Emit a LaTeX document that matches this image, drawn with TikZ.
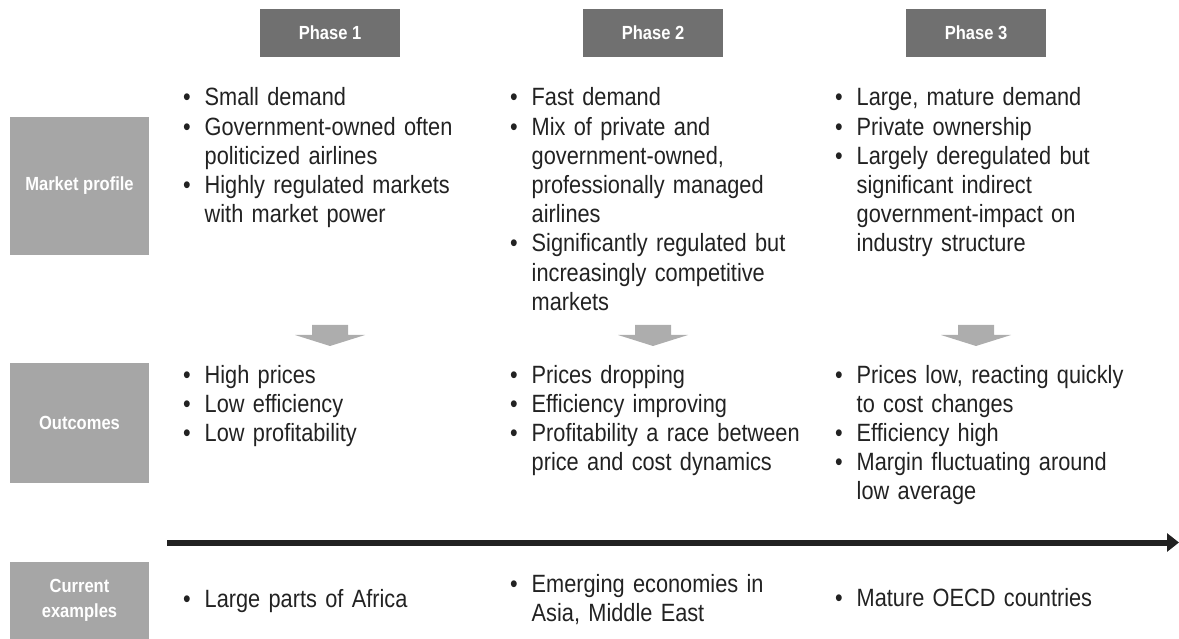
\documentclass[tikz,border=0pt]{standalone}
\usepackage{fontspec}
\setmainfont{Liberation Sans}[FakeStretch=0.87]
\usepackage{xcolor}
\usetikzlibrary{arrows.meta}
\definecolor{phasegray}{HTML}{707070}
\definecolor{rowgray}{HTML}{A6A6A6}
\definecolor{flowgray}{HTML}{ADADAD}
\definecolor{ink}{HTML}{222222}
% one bullet point, later lines hang under the text
\newcommand{\bitem}[1]{\hangindent=21.5pt\hangafter=1\noindent\makebox[21.5pt][l]{\textbullet}#1\par}

\begin{document}
\begin{tikzpicture}[x=1pt, y=-1pt,
  phase/.style={fill=phasegray, text=white, font=\fontsize{19}{22}\selectfont\bfseries, minimum width=140, minimum height=48, inner sep=0},
  rowlbl/.style={fill=rowgray, text=white, font=\fontsize{19}{25}\selectfont\bfseries, align=center, minimum width=139, inner sep=0},
  pts/.style={anchor=base west, text width=300, inner sep=0, text=ink, font=\fontsize{25}{29.2}\selectfont},
  flow/.style={fill=flowgray},
  timeline/.style={draw=ink, line width=6pt, -{Triangle[length=12pt, width=18pt]}}
]
\useasboundingbox (0,0) rectangle (1179,639);

\node[phase] (ph1) at (330,33) {Phase 1};
\node[phase] (ph2) at (653,33) {Phase 2};
\node[phase] (ph3) at (976,33) {Phase 3};

\node[rowlbl, minimum height=138] (profile) at (79.5,186) {Market profile};
\node[rowlbl, minimum height=120] (outcomes) at (79.5,423) {Outcomes};
\node[rowlbl, minimum height=77] (examples) at (79.5,600.5) {Current\\examples};

% market profile
\node[pts] (prof1) at (183,106) {\bitem{Small demand}\bitem{Government-owned often\newline politicized airlines}\bitem{Highly regulated markets\newline with market power}};
\node[pts] (prof2) at (510,106) {\bitem{Fast demand}\bitem{Mix of private and\newline government-owned,\newline professionally managed\newline airlines}\bitem{Significantly regulated but\newline increasingly competitive\newline markets}};
\node[pts] (prof3) at (835,106) {\bitem{Large, mature demand}\bitem{Private ownership}\bitem{Largely deregulated but\newline significant indirect\newline government-impact on\newline industry structure}};

% outcomes
\node[pts] (out1) at (183,383) {\bitem{High prices}\bitem{Low efficiency}\bitem{Low profitability}};
\node[pts] (out2) at (510,383) {\bitem{Prices dropping}\bitem{Efficiency improving}\bitem{Profitability a race between\newline price and cost dynamics}};
\node[pts] (out3) at (835,383) {\bitem{Prices low, reacting quickly\newline to cost changes}\bitem{Efficiency high}\bitem{Margin fluctuating around\newline low average}};

% examples
\node[pts] (ex1) at (183,607) {\bitem{Large parts of Africa}};
\node[pts] (ex2) at (510,592) {\bitem{Emerging economies in\newline Asia, Middle East}};
\node[pts] (ex3) at (835,606) {\bitem{Mature OECD countries}};

% flat block arrows from profile to outcomes
\coordinate (flowrow) at (0,325);
\foreach \p in {ph1,ph2,ph3}
  \fill[flow] (\p.south |- flowrow) ++(-18,0) -- ++(36,0) -- ++(0,10) -- ++(17,0)
    -- ++(-35,11) -- ++(-35,-11) -- ++(17,0) -- cycle;

\coordinate (tstart) at (167,542.5);
\coordinate (tend) at (1179,542.5);
\draw[timeline] (tstart) -- (tend);
\end{tikzpicture}
\end{document}
